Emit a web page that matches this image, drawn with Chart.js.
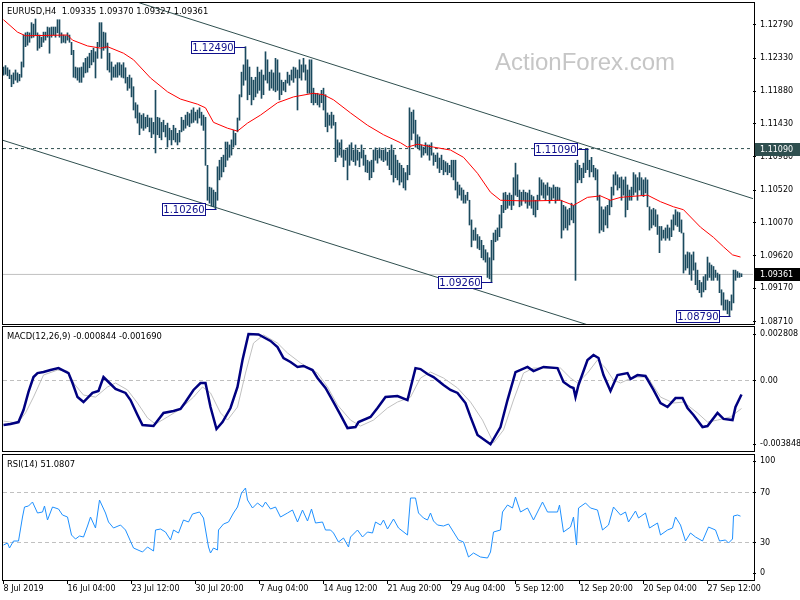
<!DOCTYPE html>
<html>
<head>
<meta charset="utf-8">
<script src="https://cdn.jsdelivr.net/npm/chart.js@4.4.0/dist/chart.umd.min.js"></script>
<style>
    html, body { margin: 0; padding: 0; background: #fff; }
    #wrap { position: relative; width: 800px; height: 600px; }
    #wrap canvas { position: absolute; left: 0; top: 0; }
</style>
</head>
<body>
<div id="wrap">
    <canvas id="rsiChart" width="800" height="600"></canvas>
    <canvas id="macdChart" width="800" height="600"></canvas>
    <canvas id="priceChart" width="800" height="600"></canvas>
</div>
<script>
// EURUSD H4 bars, one per index (high / low)
var highs = [
    1.1221,1.1223,1.1220,1.1217,1.1210,1.1213,1.1217,1.1213,1.1211,1.1228,
    1.1265,1.1268,1.1269,1.1268,1.1282,1.1280,1.1287,1.1268,1.1265,1.1262,
    1.1269,1.1269,1.1276,1.1275,1.1276,1.1276,1.1276,1.1286,1.1286,1.1268,
    1.1265,1.1264,1.1268,1.1265,1.1255,1.1244,1.1221,1.1220,1.1220,1.1221,
    1.1227,1.1233,1.1235,1.1240,1.1244,1.1247,1.1242,1.1255,1.1282,1.1282,
    1.1269,1.1268,1.1254,1.1240,1.1228,1.1221,1.1224,1.1227,1.1227,1.1224,
    1.1227,1.1220,1.1207,1.1210,1.1206,1.1194,1.1172,1.1169,1.1158,1.1155,
    1.1157,1.1152,1.1155,1.1151,1.1151,1.1145,1.1189,1.1152,1.1151,1.1145,
    1.1148,1.1141,1.1144,1.1137,1.1134,1.1141,1.1137,1.1130,1.1134,1.1152,
    1.1148,1.1155,1.1159,1.1157,1.1162,1.1165,1.1159,1.1162,1.1165,1.1159,
    1.1155,1.1152,1.1086,1.1056,1.1055,1.1052,1.1049,1.1084,1.1093,1.1097,
    1.1100,1.1118,1.1118,1.1114,1.1121,1.1134,1.1130,1.1151,1.1183,1.1214,
    1.1224,1.1249,1.1231,1.1221,1.1207,1.1203,1.1207,1.1221,1.1214,1.1217,
    1.1210,1.1242,1.1231,1.1214,1.1217,1.1213,1.1233,1.1231,1.1213,1.1203,
    1.1200,1.1203,1.1214,1.1210,1.1217,1.1221,1.1220,1.1217,1.1231,1.1224,
    1.1233,1.1224,1.1217,1.1231,1.1231,1.1192,1.1185,1.1185,1.1183,1.1189,
    1.1192,1.1183,1.1158,1.1155,1.1159,1.1155,1.1145,1.1121,1.1117,1.1121,
    1.1107,1.1107,1.1110,1.1114,1.1117,1.1107,1.1114,1.1107,1.1104,1.1114,
    1.1107,1.1100,1.1093,1.1091,1.1093,1.1107,1.1110,1.1107,1.1110,1.1107,
    1.1107,1.1110,1.1104,1.1107,1.1114,1.1107,1.1100,1.1093,1.1089,1.1086,
    1.1082,1.1076,1.1086,1.1165,1.1159,1.1162,1.1148,1.1128,1.1125,1.1114,
    1.1111,1.1117,1.1114,1.1114,1.1117,1.1103,1.1100,1.1103,1.1096,1.1100,
    1.1093,1.1091,1.1089,1.1086,1.1093,1.1093,1.1093,1.1063,1.1059,1.1055,
    1.1052,1.1045,1.1049,1.1038,1.1011,1.0997,1.1000,1.0991,1.0988,1.0983,
    1.0976,1.0970,1.0966,1.0959,1.0983,1.0993,1.0997,1.1000,1.1018,1.1031,
    1.1048,1.1049,1.1045,1.1048,1.1045,1.1069,1.1089,1.1073,1.1052,1.1049,
    1.1052,1.1049,1.1048,1.1052,1.1045,1.1043,1.1038,1.1045,1.1069,1.1066,
    1.1062,1.1059,1.1062,1.1056,1.1055,1.1059,1.1056,1.1056,1.1055,1.1038,
    1.1031,1.1029,1.1025,1.1027,1.1034,1.1031,1.1089,1.1093,1.1086,1.1082,
    1.1089,1.1107,1.1109,1.1093,1.1097,1.1086,1.1082,1.1080,1.1045,1.1029,
    1.1025,1.1029,1.1031,1.1038,1.1056,1.1073,1.1077,1.1073,1.1069,1.1070,
    1.1066,1.1070,1.1059,1.1052,1.1056,1.1076,1.1073,1.1069,1.1076,1.1069,
    1.1066,1.1069,1.1066,1.1029,1.1025,1.1027,1.1025,1.1018,1.1002,1.1002,
    1.0997,1.1000,1.1004,1.1000,1.1011,1.1018,1.1025,1.1022,1.1021,1.1011,
    1.0993,1.0963,1.0967,1.0966,1.0963,1.0967,1.0952,1.0942,1.0928,1.0925,
    1.0933,1.0936,1.0960,1.0952,1.0949,1.0947,1.0942,1.0938,1.0936,1.0915,
    1.0911,1.0901,1.0901,1.0899,1.0908,1.0942,1.0942,1.0940,1.0938,1.0937
];
var lows = [
    1.1210,1.1211,1.1209,1.1205,1.1194,1.1198,1.1203,1.1200,1.1202,1.1207,
    1.1221,1.1249,1.1251,1.1255,1.1261,1.1262,1.1265,1.1244,1.1247,1.1249,
    1.1255,1.1258,1.1262,1.1240,1.1262,1.1265,1.1262,1.1268,1.1262,1.1254,
    1.1255,1.1254,1.1258,1.1255,1.1238,1.1207,1.1206,1.1203,1.1200,1.1200,
    1.1207,1.1213,1.1214,1.1220,1.1224,1.1228,1.1206,1.1233,1.1249,1.1233,
    1.1244,1.1247,1.1217,1.1214,1.1203,1.1207,1.1207,1.1207,1.1210,1.1207,
    1.1206,1.1199,1.1189,1.1192,1.1180,1.1162,1.1151,1.1144,1.1128,1.1137,
    1.1134,1.1137,1.1139,1.1132,1.1124,1.1129,1.1103,1.1128,1.1124,1.1121,
    1.1132,1.1125,1.1111,1.1121,1.1114,1.1121,1.1118,1.1114,1.1118,1.1132,
    1.1134,1.1137,1.1141,1.1139,1.1144,1.1145,1.1148,1.1144,1.1151,1.1141,
    1.1134,1.1086,1.1038,1.1034,1.1030,1.1029,1.1026,1.1038,1.1066,1.1070,
    1.1077,1.1084,1.1093,1.1097,1.1100,1.1111,1.1114,1.1132,1.1148,1.1180,
    1.1196,1.1203,1.1176,1.1183,1.1169,1.1176,1.1180,1.1185,1.1189,1.1178,
    1.1183,1.1203,1.1199,1.1189,1.1192,1.1189,1.1187,1.1189,1.1176,1.1183,
    1.1189,1.1187,1.1199,1.1196,1.1203,1.1200,1.1206,1.1162,1.1206,1.1203,
    1.1214,1.1203,1.1185,1.1185,1.1172,1.1169,1.1172,1.1169,1.1166,1.1172,
    1.1162,1.1139,1.1132,1.1141,1.1137,1.1141,1.1091,1.1097,1.1100,1.1097,
    1.1084,1.1093,1.1066,1.1086,1.1093,1.1091,1.1086,1.1093,1.1084,1.1096,
    1.1086,1.1077,1.1076,1.1066,1.1069,1.1077,1.1093,1.1089,1.1096,1.1093,
    1.1091,1.1093,1.1086,1.1080,1.1073,1.1063,1.1069,1.1066,1.1059,1.1063,
    1.1055,1.1052,1.1066,1.1073,1.1121,1.1130,1.1111,1.1110,1.1107,1.1097,
    1.1100,1.1103,1.1100,1.1093,1.1100,1.1086,1.1091,1.1082,1.1076,1.1080,
    1.1073,1.1077,1.1073,1.1076,1.1070,1.1066,1.1052,1.1041,1.1045,1.1038,
    1.1034,1.1034,1.1038,1.1004,1.0974,1.0983,1.0983,1.0972,1.0970,1.0959,
    1.0956,1.0953,1.0932,1.0930,1.0926,1.0956,1.0981,1.0983,1.0988,1.1000,
    1.1021,1.1025,1.1027,1.1031,1.1025,1.1031,1.1045,1.1043,1.1029,1.1031,
    1.1038,1.1034,1.1027,1.1031,1.1027,1.1018,1.1015,1.1025,1.1038,1.1045,
    1.1041,1.1038,1.1045,1.1034,1.1038,1.1041,1.1034,1.1038,1.1038,1.0986,
    1.0997,1.1000,1.0997,1.1004,1.1011,1.1007,1.0928,1.1062,1.1066,1.1062,
    1.1069,1.1076,1.1080,1.1070,1.1077,1.1070,1.1066,1.1038,1.0993,1.0997,
    1.0995,1.1004,1.1000,1.1018,1.1029,1.1045,1.1059,1.1052,1.1055,1.1038,
    1.1045,1.1015,1.1025,1.1038,1.1038,1.1045,1.1049,1.1038,1.1052,1.1045,
    1.1043,1.1048,1.1029,1.0997,1.1000,1.1004,1.1002,1.0991,1.0966,1.0983,
    1.0986,1.0983,1.0986,1.0983,1.0988,1.0997,1.1004,1.1002,1.0995,1.0993,
    1.0938,1.0942,1.0945,1.0936,1.0928,1.0942,1.0922,1.0915,1.0911,1.0905,
    1.0912,1.0915,1.0928,1.0932,1.0928,1.0928,1.0932,1.0928,1.0911,1.0894,
    1.0887,1.0887,1.0882,1.0879,1.0887,1.0897,1.0928,1.0932,1.0932,1.0933
];

// red moving average, read at bar positions
var maIdx = [0,7,11,32,34.5,42,48.5,52,60,65,73.5,82,88.5,97,101,105,112,117,122,128.5,137,145,155,160,165,173.5,182,190,198.5,202,207,215,223.5,230,237,243.5,248.5,262,278.5,285,292,298.5,303.5,308.5,322,328.5,335,340,348.5,355,360,364.5,368.5];
var maVal = [1.1286,1.1269,1.1264,1.1265,1.1258,1.1250,1.1247,1.1249,1.1240,1.1231,1.1206,1.1187,1.1177,1.1170,1.1165,1.1145,1.1137,1.1133,1.1144,1.1155,1.1172,1.1180,1.1185,1.1183,1.1176,1.1158,1.1141,1.1128,1.1117,1.1111,1.1115,1.1111,1.1107,1.1097,1.1075,1.1049,1.1038,1.1037,1.1038,1.1031,1.1042,1.1044,1.1038,1.1042,1.1045,1.1036,1.1029,1.1025,1.1001,1.0987,1.0974,1.0963,1.0960];

// MACD(12,26,9) main and signal
var macdIdx = [0,3.5,7.5,10,12.5,15,17,20,23.5,27.5,32.5,34.5,37,40,44.5,47.5,50,52.5,56,61,63.5,67,69.5,75,80,85,88.5,91,95,98.5,101,103.5,106.5,109.5,113.5,117,119.5,122.5,127.5,133.5,137,140,143.5,147,150,154.5,157,161,165,168.5,172,176,177.5,183.5,187,191,197,202,206,208.5,212,215,220,223.5,227,231,233.5,237,243.5,248.5,252,256,262,265,270,277,280,283.5,285,286,287.5,292,295,297.5,300,303.5,307,312,313.5,317,321,325,328.5,332,336,339.5,342,345,349.5,352,357,360,364.5,366,369];
var macdVal = [-0.00269,-0.00263,-0.00251,-0.00178,-0.00069,0.00021,0.00045,0.00051,0.00063,0.00075,0.00045,-0.00015,-0.00100,-0.00130,-0.00075,-0.00063,0.00021,-0.00009,-0.00051,-0.00075,-0.00118,-0.00208,-0.00269,-0.00275,-0.00196,-0.00184,-0.00172,-0.00130,-0.00057,-0.00015,-0.00015,-0.00160,-0.00293,-0.00251,-0.00166,-0.00039,0.00124,0.00281,0.00278,0.00239,0.00202,0.00136,0.00112,0.00082,0.00088,0.00063,0.00015,-0.00045,-0.00130,-0.00208,-0.00287,-0.00281,-0.00251,-0.00220,-0.00166,-0.00100,-0.00094,-0.00118,0.00075,0.00069,0.00039,0.00021,-0.00027,-0.00057,-0.00075,-0.00136,-0.00220,-0.00329,-0.00385,-0.00281,-0.00118,0.00051,0.00082,0.00057,0.00082,0.00075,-0.00009,-0.00039,-0.00045,-0.00100,-0.00027,0.00124,0.00154,0.00136,0.00033,-0.00063,0.00033,0.00045,0.00009,0.00033,0.00027,-0.00057,-0.00136,-0.00160,-0.00106,-0.00106,-0.00166,-0.00208,-0.00281,-0.00275,-0.00196,-0.00232,-0.00239,-0.00160,-0.00084];
var signalIdx = [0,7,11,15,20,27,32,35,40,46,52,56,62,67,72,76,82,88.5,95,99.5,103.5,108.5,112,117,121,125,130,137,142,148.5,157,162,167,173.5,178.5,185,192,197,203.5,208.5,213.5,220,227,233.5,239.5,245,250,255,260,265,278.5,283.5,287,292,297,301,305,308.5,315,322,328.5,335,340,347,352,357,363.5,369];
var signalVal = [-0.00245,-0.00257,-0.00196,-0.00100,0.00033,0.00063,0.00057,-0.00015,-0.00088,-0.00100,-0.00039,-0.00015,-0.00057,-0.00136,-0.00226,-0.00263,-0.00220,-0.00172,-0.00100,-0.00039,-0.00075,-0.00196,-0.00239,-0.00160,0.00045,0.00226,0.00275,0.00226,0.00166,0.00106,0.00045,-0.00039,-0.00148,-0.00239,-0.00275,-0.00239,-0.00166,-0.00130,-0.00100,0.00015,0.00051,0.00015,-0.00045,-0.00130,-0.00239,-0.00377,-0.00299,-0.00118,0.00045,0.00075,0.00075,0.00015,-0.00015,0.00045,0.00124,0.00075,0.00003,-0.00015,0.00021,0.00021,-0.00100,-0.00136,-0.00130,-0.00196,-0.00251,-0.00239,-0.00220,-0.00169];

// RSI(14)
var rsiIdx = [0,2,3,5,7.5,9.5,10.5,12.5,14.5,17,19.5,20.5,22,24.5,27.5,29.5,32,34,36,38,40,42,43.5,46,48,51,52.5,55,58.5,61,65,69.5,72,75,76,78.5,81,83.5,85,87.5,90,92.5,94.5,98,100,102.5,103.5,105,107,107.5,110,112.5,115,117,119,121,122,124.5,127,129.5,131,133.5,136,138.5,142,144.5,147,149.5,152,154,156,159.5,161,163.5,165,167.5,170,172.5,173.5,177,179.5,182,184.5,186,188.5,190,192,195,197.5,202,203.5,206,207.5,210,212,213.5,215,217,220,222.5,225,227.5,230,232.5,235,238.5,242,243.5,245,248.5,249.5,252,254.5,256,258.5,262,265,269.5,272,277,278,280,283.5,285,286.5,287.5,291,293.5,297,299.5,302.5,305,308.5,311,312.5,316,317.5,321,323,327,328.5,332,334.5,336,338.5,341,343.5,346,349.5,352.5,356,358,361,362.5,364.5,365,367,368.5];
var rsiVal = [28,29.6,25.6,31.2,31.2,50.4,58.4,59.2,62.4,53.6,54.4,59.2,48,58.4,56.8,52,50.4,36,32.8,35.2,34.4,43.2,50.4,41.6,64,53.6,46.4,41.6,44,40,25.6,22.4,26.4,23.2,40,40.8,38.4,32,40,37.6,48,46.4,52.8,54.4,49.6,26.4,21.6,25.6,24,40,44.8,46.4,53.6,58.4,69.6,73.6,64,57.6,61.6,58.4,62.4,56.8,58.4,50.4,53.6,56,46.4,56,47.2,56.8,45.6,46.4,40,40,37.6,30.4,33.6,26.4,34.4,40,34.4,38.4,37.6,46.4,44,48,40.8,48.8,41.6,36,65.6,65.6,53.6,49.6,48,53.6,47.2,44,43.2,44.8,38.4,32,30.4,18.4,21.6,18.4,17.6,22.4,38.4,40,54.4,60,57.6,66.4,54.4,57.6,48,62.4,54.4,54.4,60,38.4,42.4,50.4,28,57.6,61.6,57.6,56,40,44,58.4,52,54.4,46.4,55.2,49.6,53.6,41.6,45.6,36,40,41.6,50.4,44,31.2,37.6,34.4,31.2,42.4,40,31.2,32,29.6,32.8,51.2,52,51.1];

// axis ticks
var xTickIdx = [0,32,64,96,128,160,192,224,256,288,320,352];
var xTickLabels = ['8 Jul 2019','16 Jul 04:00','23 Jul 12:00','30 Jul 20:00','7 Aug 04:00','14 Aug 12:00','21 Aug 20:00','29 Aug 04:00','5 Sep 12:00','12 Sep 20:00','20 Sep 04:00','27 Sep 12:00'];
var priceTicks = [1.12790,1.12330,1.11880,1.11430,1.10980,1.10520,1.10070,1.09620,1.09170,1.08710];
var macdTicks = [0.002808, 0, -0.003848];
var macdTickLabels = ['0.002808', '0.00', '-0.003848'];
var rsiTicks = [95, 70, 30, 5.5];
var rsiTickLabels = ['100', '70', '30', '0'];

// levels, channel and marked highs/lows
var resistanceLevel = 1.11090;
var lastPrice = 1.09361;
var upperChannelIdx = [50, 375];
var upperChannelVal = [1.1325, 1.1040];
var lowerChannelIdx = [-1, 300];
var lowerChannelVal = [1.1121, 1.0860];
var markIdx = [121, 106, 292, 244, 363];
var markVal = [1.12490, 1.10260, 1.11090, 1.09260, 1.08790];
var macdLevels = [0];
var rsiLevels = [70, 30];

var X_MIN = -0.25, X_MAX = 374.75;
var BAR_COLOR = '#1b4a5e';
var SLATE = '#2f4f4f';

Chart.defaults.font.family = '"DejaVu Sans"';
Chart.defaults.font.size = 8;
Chart.defaults.color = '#000';

function pts(idx, vals) {
    return idx.map(function (x, i) { return { x: x, y: vals[i] }; });
}
function hline(v) {
    return [{ x: X_MIN, y: v }, { x: X_MAX, y: v }];
}

function xScale(show) {
    return {
        type: 'linear', min: X_MIN, max: X_MAX, offset: false, display: show,
        afterBuildTicks: function (s) { s.ticks = xTickIdx.map(function (v) { return { value: v }; }); },
        afterFit: function (s) { if (show) s.height = 20; s.paddingLeft = 0; s.paddingRight = 0; },
        grid: { drawOnChartArea: false, drawTicks: true, tickLength: 4, color: '#000' },
        border: { display: false },
        ticks: {
            autoSkip: false, maxRotation: 0, minRotation: 0, align: 'start', padding: 0, color: '#000',
            callback: function (v, i) { return xTickLabels[i]; }
        }
    };
}
function yScale(min, max, tickVals, labelFn) {
    return {
        position: 'right', type: 'linear', min: min, max: max, bounds: 'data',
        afterBuildTicks: function (s) { s.ticks = tickVals.map(function (v) { return { value: v }; }); },
        afterFit: function (s) { s.width = 47; s.paddingTop = 0; s.paddingBottom = 0; },
        grid: { drawOnChartArea: false, drawTicks: true, tickLength: 3, color: '#000' },
        border: { display: false },
        ticks: { autoSkip: false, padding: 4, color: '#000', callback: labelFn }
    };
}
function baseOptions(padding, scales) {
    return {
        responsive: false, animation: false, devicePixelRatio: 1, events: [],
        layout: { padding: padding },
        scales: scales,
        plugins: { legend: { display: false }, tooltip: { enabled: false } }
    };
}
function lineSet(data, color, width, order, dash) {
    return {
        type: 'line', data: data, borderColor: color, borderWidth: width, borderDash: dash || [],
        pointRadius: 0, tension: 0, fill: false, order: order
    };
}
function drawFrame(chart) {
    var ctx = chart.ctx, a = chart.chartArea;
    ctx.save();
    ctx.strokeStyle = '#000';
    ctx.lineWidth = 1;
    ctx.strokeRect(2.5, a.top - 0.5, 752, a.bottom - a.top + 1);
    ctx.restore();
}
function caption(chart, text, y) {
    var ctx = chart.ctx;
    ctx.save();
    ctx.font = '8.4px "DejaVu Sans"';
    ctx.fillStyle = '#000';
    ctx.textBaseline = 'alphabetic';
    ctx.fillText(text, 7, y);
    ctx.restore();
}
function axisBox(chart, value, bg) {
    var ctx = chart.ctx, y = Math.round(chart.scales.y.getPixelForValue(value));
    ctx.save();
    ctx.fillStyle = bg;
    ctx.fillRect(755, y - 6, 45, 13);
    ctx.fillStyle = '#fff';
    ctx.font = '8px "DejaVu Sans"';
    ctx.textBaseline = 'middle';
    ctx.fillText(value.toFixed(5), 760, y + 0.5);
    ctx.restore();
}

// price panel
var priceDecor = {
    id: 'priceDecor',
    beforeDatasetsDraw: function (chart) {
        var ctx = chart.ctx;
        ctx.save();
        ctx.font = '24px "Liberation Sans"';
        ctx.fillStyle = '#c6c6c6';
        ctx.fillText('ActionForex.com', 495, 70);
        ctx.restore();
    },
    afterDraw: function (chart) {
        var ctx = chart.ctx, xs = chart.scales.x, ys = chart.scales.y;
        drawFrame(chart);
        caption(chart, 'EURUSD,H4  1.09335 1.09370 1.09327 1.09361', 14);
        markIdx.forEach(function (idx, k) {
            var bx = Math.round(xs.getPixelForValue(idx)) + 0.5;
            var by = Math.round(ys.getPixelForValue(markVal[k])) + 0.5;
            var right = bx - 11, left = right - 43;
            ctx.save();
            ctx.strokeStyle = '#10108c';
            ctx.lineWidth = 1;
            ctx.fillStyle = '#fff';
            ctx.fillRect(left, by - 6, 43, 12);
            ctx.strokeRect(left, by - 6, 43, 12);
            ctx.beginPath();
            ctx.moveTo(right, by);
            ctx.lineTo(bx, by);
            ctx.stroke();
            ctx.fillStyle = '#10108c';
            ctx.font = '10px "DejaVu Sans"';
            ctx.textAlign = 'center';
            ctx.textBaseline = 'middle';
            ctx.fillText(markVal[k].toFixed(5), left + 21.5, by + 0.5);
            ctx.restore();
        });
        axisBox(chart, resistanceLevel, SLATE);
        axisBox(chart, lastPrice, '#000');
    }
};

new Chart(document.getElementById('priceChart'), {
    type: 'line',
    data: {
        datasets: [
            lineSet(pts(maIdx, maVal), '#ff0000', 1, 0),
            {
                type: 'bar', order: 1,
                data: highs.map(function (h, i) { return { x: i, y: [lows[i], h] }; }),
                backgroundColor: BAR_COLOR, borderWidth: 0, barThickness: 1, grouped: false
            },
            lineSet(pts(upperChannelIdx, upperChannelVal), SLATE, 1, 2),
            lineSet(pts(lowerChannelIdx, lowerChannelVal), SLATE, 1, 2),
            lineSet(hline(resistanceLevel), SLATE, 1, 3, [3, 3]),
            lineSet(hline(lastPrice), '#c0c0c0', 1, 4)
        ]
    },
    options: baseOptions({ left: 3, top: 3, right: 0, bottom: 276 }, {
        x: xScale(false),
        y: yScale(1.0868, 1.1309, priceTicks, function (v) { return v.toFixed(5); })
    }),
    plugins: [priceDecor]
});

// MACD panel
new Chart(document.getElementById('macdChart'), {
    type: 'line',
    data: {
        datasets: [
            lineSet(pts(macdIdx, macdVal), '#000080', 2.5, 0),
            lineSet(pts(signalIdx, signalVal), '#c0c0c0', 1, 1),
            lineSet(hline(macdLevels[0]), '#c0c0c0', 1, 2, [4, 3])
        ]
    },
    options: baseOptions({ left: 3, top: 327, right: 0, bottom: 149 }, {
        x: xScale(false),
        y: yScale(-0.004257, 0.003231, macdTicks, function (v, i) { return macdTickLabels[i]; })
    }),
    plugins: [{
        id: 'macdDecor',
        afterDraw: function (chart) {
            drawFrame(chart);
            caption(chart, 'MACD(12,26,9) -0.000844 -0.001690', 339);
        }
    }]
});

// RSI panel
new Chart(document.getElementById('rsiChart'), {
    type: 'line',
    data: {
        datasets: [
            lineSet(pts(rsiIdx, rsiVal), '#1e90ff', 1, 0),
            lineSet(hline(rsiLevels[0]), '#c0c0c0', 1, 1, [4, 3]),
            lineSet(hline(rsiLevels[1]), '#c0c0c0', 1, 1, [4, 3])
        ]
    },
    options: baseOptions({ left: 3, top: 455, right: 0, bottom: 0 }, {
        x: xScale(true),
        y: yScale(0, 100, rsiTicks, function (v, i) { return rsiTickLabels[i]; })
    }),
    plugins: [{
        id: 'rsiDecor',
        afterDraw: function (chart) {
            drawFrame(chart);
            caption(chart, 'RSI(14) 51.0807', 467);
        }
    }]
});
</script>
</body>
</html>
